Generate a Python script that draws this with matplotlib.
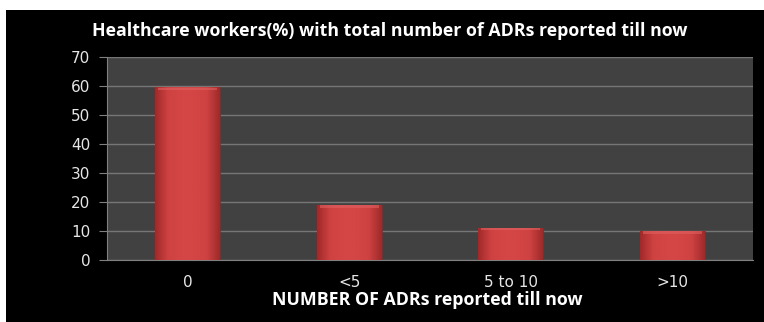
from matplotlib import pyplot as plt
from matplotlib.patches import Rectangle
from matplotlib.colors import LinearSegmentedColormap
import numpy as np

categories = ['0', '<5', '5 to 10', '>10']
percent = [59.5, 19, 11.2, 10]
y_ticks = [0, 10, 20, 30, 40, 50, 60, 70]

fig = plt.figure(figsize=(7.64, 3.22), dpi=100)
fig.patch.set_facecolor('white')
# black panel behind the chart (the original screenshot has a white margin top/left)
fig.patches.append(Rectangle((6 / 764, 0), 1, (322 - 10) / 322, transform=fig.transFigure,
                             facecolor='black', edgecolor='none', zorder=-10))

ax = fig.add_axes([107 / 764, 62 / 322, (753 - 107) / 764, (260 - 57) / 322])
ax.set_facecolor('#414141')

x = np.arange(len(categories))
bars = ax.bar(x, percent, width=0.4, color='#cc3c3c', edgecolor='#8a2020', linewidth=0.5, zorder=3)

# fake the excel bevel: darker edges, lighter middle
red = LinearSegmentedColormap.from_list('bev', ['#a02a2a', '#cf4242', '#d44646', '#d44646', '#cf4242', '#a02a2a'])
grad = np.linspace(0, 1, 64).reshape(1, -1)
for b in bars:
    x0, w, h = b.get_x(), b.get_width(), b.get_height()
    im = ax.imshow(grad, cmap=red, extent=[x0, x0 + w, 0, h], aspect='auto', zorder=3.5)
    im.set_clip_path(b)
    # soft lighter top edge
    ax.add_patch(Rectangle((x0 + w * 0.04, h - 0.9), w * 0.92, 0.8, facecolor='#e06060',
                           edgecolor='none', alpha=0.6, zorder=4))

ax.set_xlim(-0.5, len(categories) - 0.5)
ax.set_ylim(0, 70)
ax.set_yticks(y_ticks)
ax.set_xticks(x)
ax.set_xticklabels(categories)
ax.yaxis.grid(True, color='#767676', linewidth=1.0, zorder=1)
ax.set_axisbelow(True)

for side in ['top', 'right']:
    ax.spines[side].set_visible(False)
ax.spines['left'].set_color('#808080')
ax.spines['bottom'].set_color('#808080')
ax.tick_params(axis='y', colors='#808080', labelcolor='#e6e6e6', length=6, labelsize=11, pad=6)
ax.tick_params(axis='x', length=0, labelcolor='#e6e6e6', labelsize=11, pad=11)
for lab in ax.get_yticklabels() + ax.get_xticklabels():
    lab.set_family('DejaVu Sans')

fig.text(390 / 764, 1 - 31 / 322, 'Healthcare workers(%) with total number of ADRs reported till now',
         color='white', fontsize=12.8, fontweight='bold', family='Open Sans', ha='center', va='center')
fig.text(427 / 764, 1 - 300 / 322, 'NUMBER OF ADRs reported till now',
         color='white', fontsize=12.8, fontweight='bold', family='Open Sans', ha='center', va='center')

fig.savefig('out.png', dpi=100, facecolor=fig.get_facecolor())
